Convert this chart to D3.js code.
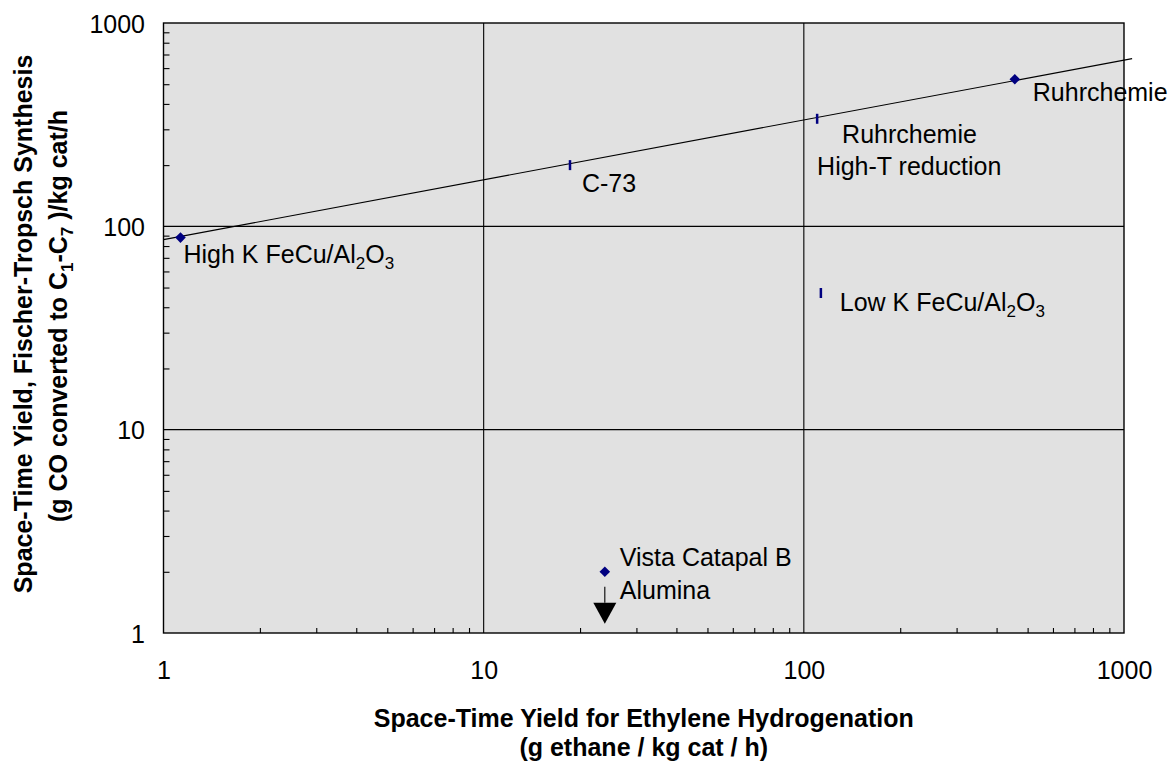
<!DOCTYPE html>
<html>
<head>
<meta charset="utf-8">
<script src="https://cdn.jsdelivr.net/npm/d3@7"></script>
<style>
    body { margin: 0; background: #ffffff; }
    svg { display: block; font-family: Arial, "Liberation Sans", sans-serif; }
</style>
</head>
<body>
<svg id="chart" width="1169" height="764"></svg>
<script>
// chart data
var xTicks = [1, 10, 100, 1000]
var yTicks = [1, 10, 100, 1000]
var catalysts = ["High K FeCu/Al2O3", "C-73", "Ruhrchemie High-T reduction", "Ruhrchemie", "Low K FeCu/Al2O3", "Vista Catapal B Alumina"]
var ethyleneSTY = [1.13, 18.6, 110, 456, 113, 23.9]   // g ethane / kg cat / h
var fischerSTY = [88, 200, 338, 529, 47, 2.0]         // g CO -> C1-C7 / kg cat / h
var markerType = ["diamond", "dash", "dash", "diamond", "dash", "diamond"]
var upperLimit = ["Vista Catapal B Alumina"]          // value is an upper bound (arrow)
var trendX = [1, 1060]
var trendY = [86, 668]

// label layout: lines with offsets from the marker, "_" marks a subscript
var labelLines = {
    "High K FeCu/Al2O3": [{t: "High K FeCu/Al_2O_3", dx: 3, dy: 25}],
    "C-73": [{t: "C-73", dx: 12, dy: 27}],
    "Ruhrchemie High-T reduction": [{t: "Ruhrchemie", dx: 25, dy: 24}, {t: "High-T reduction", dx: 0, dy: 56}],
    "Ruhrchemie": [{t: "Ruhrchemie", dx: 18, dy: 22}],
    "Low K FeCu/Al2O3": [{t: "Low K FeCu/Al_2O_3", dx: 19, dy: 18}],
    "Vista Catapal B Alumina": [{t: "Vista Catapal B", dx: 15, dy: -6}, {t: "Alumina", dx: 15, dy: 27}]
}

var plotLeft = 163.5, plotRight = 1124, plotTop = 23, plotBottom = 633
var navy = "#000080"

var svg = d3.select("#chart")

var x = d3.scaleLog().domain([1, 1000]).range([plotLeft, plotRight])
var y = d3.scaleLog().domain([1, 1000]).range([plotBottom, plotTop])

// plot background
svg.append("rect")
    .attr("x", plotLeft).attr("y", plotTop)
    .attr("width", plotRight - plotLeft).attr("height", plotBottom - plotTop)
    .attr("fill", "#e1e1e1")

// minor tick positions
function minorTicks(domain)
{
    var out = []
    for(var d = domain[0]; d < domain[1]; d *= 10)
    {
        for(var k = 2; k < 10; k++) out.push(d * k)
    }
    return out
}

// grid lines at the decades
var grid = svg.append("g")
grid.selectAll("line.gx")
    .data(xTicks.slice(1, -1))
    .enter().append("line")
        .attr("x1", function(d){ return x(d) }).attr("x2", function(d){ return x(d) })
        .attr("y1", plotTop).attr("y2", plotBottom)
        .attr("stroke", "#000").attr("stroke-width", 1.1)
grid.selectAll("line.gy")
    .data(yTicks.slice(1, -1))
    .enter().append("line")
        .attr("y1", function(d){ return y(d) }).attr("y2", function(d){ return y(d) })
        .attr("x1", plotLeft).attr("x2", plotRight)
        .attr("stroke", "#000").attr("stroke-width", 1.1)

// minor ticks pointing into the plot
var minorX = svg.append("g")
    .attr("transform", "translate(0," + plotBottom + ")")
    .call(d3.axisBottom(x).tickValues(minorTicks([1, 1000])).tickSize(-5).tickFormat(""))
var minorY = svg.append("g")
    .attr("transform", "translate(" + plotLeft + ",0)")
    .call(d3.axisLeft(y).tickValues(minorTicks([1, 1000])).tickSize(-6).tickFormat(""))
minorX.select(".domain").remove()
minorY.select(".domain").remove()
minorX.selectAll("text").remove()
minorY.selectAll("text").remove()
svg.selectAll(".tick line").attr("stroke", "#000").attr("stroke-width", 1.1)

// major tick labels
var xAxis = svg.append("g")
    .attr("transform", "translate(0," + plotBottom + ")")
    .call(d3.axisBottom(x).tickValues(xTicks).tickSize(0).tickPadding(28).tickFormat(d3.format("d")))
var yAxis = svg.append("g")
    .attr("transform", "translate(" + plotLeft + ",0)")
    .call(d3.axisLeft(y).tickValues(yTicks).tickSize(0).tickPadding(18.5).tickFormat(d3.format("d")))
xAxis.select(".domain").remove()
yAxis.select(".domain").remove()
svg.selectAll(".tick text")
    .attr("font-size", 25)
    .attr("font-family", "Arial, 'Liberation Sans', sans-serif")
    .attr("fill", "#000")
yAxis.selectAll(".tick text").attr("dy", "0.36em")

// plot frame
svg.append("rect")
    .attr("x", plotLeft).attr("y", plotTop)
    .attr("width", plotRight - plotLeft).attr("height", plotBottom - plotTop)
    .attr("fill", "none").attr("stroke", "#000").attr("stroke-width", 1.4)

// trend line (runs a little past the frame like the original)
var trend = trendX.map(function(v, i){ return [v, trendY[i]] })
svg.append("path")
    .datum(trend)
    .attr("d", d3.line().x(function(d){ return x(d[0]) }).y(function(d){ return y(d[1]) }))
    .attr("fill", "none").attr("stroke", "#000").attr("stroke-width", 1.1)

var points = catalysts.map(function(c, i){
    return {name: c, x: ethyleneSTY[i], y: fischerSTY[i], type: markerType[i]}
})

// markers
var diamond = d3.symbol().type(d3.symbolSquare).size(56)
svg.selectAll("path.diamond")
    .data(points.filter(function(d){ return d.type == "diamond" }))
    .enter().append("path")
        .attr("class", "diamond")
        .attr("d", diamond)
        .attr("transform", function(d){ return "translate(" + x(d.x) + "," + y(d.y) + ") rotate(45)" })
        .attr("fill", navy)
svg.selectAll("rect.dash")
    .data(points.filter(function(d){ return d.type == "dash" }))
    .enter().append("rect")
        .attr("class", "dash")
        .attr("x", function(d){ return x(d.x) - 1.2 })
        .attr("y", function(d){ return y(d.y) - 5 })
        .attr("width", 2.5).attr("height", 10)
        .attr("fill", navy)

// upper-limit arrow
points.filter(function(d){ return upperLimit.indexOf(d.name) >= 0 }).forEach(function(d)
{
    var px = x(d.x), py = y(d.y)
    svg.append("line")
        .attr("x1", px).attr("x2", px)
        .attr("y1", py + 15).attr("y2", py + 31)
        .attr("stroke", "#000").attr("stroke-width", 1.1)
    svg.append("path")
        .attr("d", "M" + (px - 11.5) + "," + (py + 31) + "L" + (px + 11.5) + "," + (py + 31) + "L" + px + "," + (py + 52) + "Z")
        .attr("fill", "#000")
})

// text with "_x" subscripts
function richText(sel, str)
{
    var parts = str.split(/(_\d)/)
    var shift = 0
    parts.forEach(function(p)
    {
        if(!p) return
        if(p[0] == "_")
        {
            sel.append("tspan").attr("font-size", 17).attr("dy", 6 - shift).text(p.slice(1))
            shift = 6
        }
        else
        {
            var t = sel.append("tspan").text(p)
            if(shift) t.attr("dy", -shift)
            shift = 0
        }
    })
}

// point labels
points.forEach(function(d)
{
    labelLines[d.name].forEach(function(l)
    {
        var t = svg.append("text")
            .attr("x", x(d.x) + l.dx)
            .attr("y", y(d.y) + l.dy)
            .attr("font-size", 25)
            .attr("fill", "#000")
        richText(t, l.t)
    })
})

// axis titles
var cx = (plotLeft + plotRight) / 2
svg.append("text")
    .attr("x", cx).attr("y", 727)
    .attr("text-anchor", "middle").attr("font-size", 25).attr("font-weight", "bold")
    .text("Space-Time Yield for Ethylene Hydrogenation")
svg.append("text")
    .attr("x", cx).attr("y", 756)
    .attr("text-anchor", "middle").attr("font-size", 25).attr("font-weight", "bold")
    .text("(g ethane / kg cat / h)")

svg.append("text")
    .attr("transform", "translate(32,324) rotate(-90)")
    .attr("text-anchor", "middle").attr("font-size", 25).attr("font-weight", "bold")
    .text("Space-Time Yield, Fischer-Tropsch Synthesis")
var yt2 = svg.append("text")
    .attr("transform", "translate(67,316) rotate(-90)")
    .attr("text-anchor", "middle").attr("font-size", 25).attr("font-weight", "bold")
richText(yt2, "(g CO converted to C_1-C_7 )/kg cat/h")
</script>
</body>
</html>
